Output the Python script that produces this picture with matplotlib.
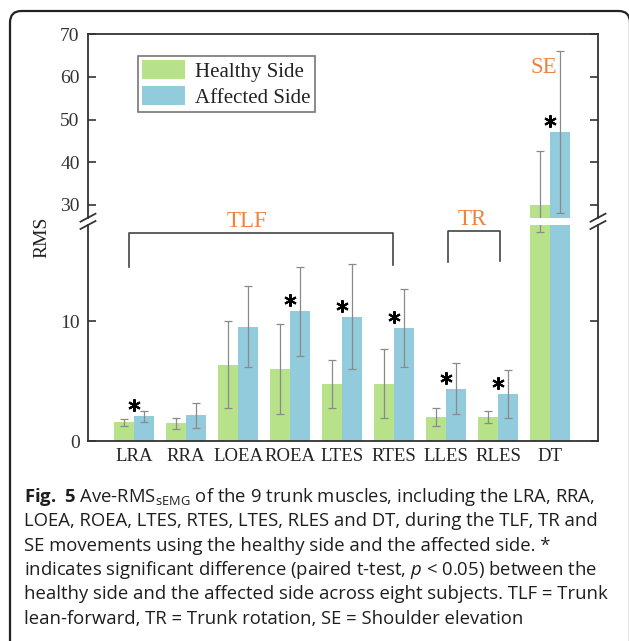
import matplotlib
matplotlib.use("Agg")
import matplotlib.pyplot as plt
import matplotlib.transforms as mtransforms
from matplotlib.lines import Line2D
from matplotlib.patches import FancyBboxPatch, Patch
import numpy as np

# data
muscles = ["LRA", "RRA", "LOEA", "ROEA", "LTES", "RTES", "LLES", "RLES", "DT"]
healthy = [1.55, 1.47, 6.36, 6.00, 4.75, 4.78, 2.00, 2.00, 30.0]
healthy_err = [0.30, 0.46, 3.64, 3.75, 1.96, 2.86, 0.79, 0.50, 12.6]
affected = [2.05, 2.14, 9.53, 10.80, 10.36, 9.39, 4.36, 3.92, 47.1]
affected_err = [0.43, 1.05, 3.40, 3.70, 4.36, 3.24, 2.10, 2.00, 18.9]
significant = [True, False, False, True, True, True, True, True, True]

# bracket ends (in muscle index units)
tlf_span = (-0.1, 4.98)
tr_span = (6.03, 7.04)

caption = [
    r"$\mathbf{Fig.\ 5}$ Ave-RMS$_{\mathrm{sEMG}}$ of the 9 trunk muscles, including the LRA, RRA,",
    "LOEA, ROEA, LTES, RTES, LTES, RLES and DT, during the TLF, TR and",
    "SE movements using the healthy side and the affected side. *",
    r"indicates significant difference (paired t-test, $p$ < 0.05) between the",
    "healthy side and the affected side across eight subjects. TLF = Trunk",
    "lean-forward, TR = Trunk rotation, SE = Shoulder elevation",
]

GREEN = "#B7E289"
BLUE = "#92CCDC"
ORANGE = "#F0823C"
SERIF = "Liberation Serif"

plt.rcParams["mathtext.fontset"] = "custom"
plt.rcParams["mathtext.rm"] = "Open Sans"
plt.rcParams["mathtext.it"] = "Open Sans:italic"
plt.rcParams["mathtext.bf"] = "Open Sans:bold"

W, H = 629, 641
fig = plt.figure(figsize=(W / 100, H / 100), dpi=100)

def fx(px):
    return px / W

def fy(py):
    return 1 - py / H

left, right = 88, 598
ax_top = fig.add_axes([fx(left), fy(217.7), fx(right - left), (217.7 - 34.3) / H])
ax_bot = fig.add_axes([fx(left), fy(441), fx(right - left), (441 - 225) / H])

x = np.arange(len(muscles))
w = 0.385

for ax in (ax_top, ax_bot):
    ax.set_facecolor("none")
    ax.bar(x - w / 2, healthy, w, color=GREEN, zorder=2)
    ax.bar(x + w / 2, affected, w, color=BLUE, zorder=2)
    ax.errorbar(x - w / 2, healthy, yerr=healthy_err, fmt="none", ecolor="#8a8a8a",
                elinewidth=0.9, capsize=3, capthick=0.9, zorder=3)
    ax.errorbar(x + w / 2, affected, yerr=affected_err, fmt="none", ecolor="#8a8a8a",
                elinewidth=0.9, capsize=3, capthick=0.9, zorder=3)
    ax.set_xlim(-0.885, 8.92)
    for s in ax.spines.values():
        s.set_linewidth(1.3)
        s.set_color("#333333")
    ax.tick_params(axis="y", direction="in", length=6, width=1.2, left=True, right=True,
                   labelright=False, pad=6, labelsize=14, colors="#333333")

ax_top.set_ylim(27, 70)
ax_top.set_yticks([30, 40, 50, 60, 70])
ax_top.spines["bottom"].set_visible(False)
ax_top.tick_params(axis="x", bottom=False, labelbottom=False)

ax_bot.set_ylim(0, 18)
ax_bot.set_yticks([0, 10])
ax_bot.spines["top"].set_visible(False)
ax_bot.set_xticks(x)
ax_bot.set_xticklabels(muscles, fontfamily=SERIF, fontsize=13.5, color="#222222")
ax_bot.tick_params(axis="x", length=0, pad=5)
for ax in (ax_top, ax_bot):
    for lab in ax.get_yticklabels():
        lab.set_fontfamily(SERIF)

# significance stars above the affected bars
for i, sig in enumerate(significant):
    if not sig:
        continue
    ax = ax_top if affected[i] > 18 else ax_bot
    tr = mtransforms.offset_copy(ax.transData, fig=fig, y=11, units="dots")
    ax.plot(i, affected[i], marker=(6, 2, 0), ms=9, mew=1.5, color="black",
            transform=tr, clip_on=False, zorder=5)

# group brackets
bk = "#444444"
ax_bot.plot([tlf_span[0], tlf_span[0], tlf_span[1], tlf_span[1]], [14.5, 17.35, 17.35, 14.7],
            color=bk, lw=1.2, clip_on=False)
ax_bot.plot([tr_span[0], tr_span[0], tr_span[1], tr_span[1]], [14.9, 17.5, 17.5, 15.0],
            color=bk, lw=1.2, clip_on=False)
ax_bot.text(2.17, 18.3, "TLF", color=ORANGE, fontsize=16.5, fontfamily=SERIF,
            ha="center", va="center", clip_on=False)
ax_bot.text(6.5, 18.45, "TR", color=ORANGE, fontsize=16.5, fontfamily=SERIF,
            ha="center", va="center", clip_on=False)
ax_top.text(7.88, 62.1, "SE", color=ORANGE, fontsize=16.5, fontfamily=SERIF,
            ha="center", va="center")

# legend
handles = [Patch(facecolor=GREEN, edgecolor="none", label="Healthy Side"),
           Patch(facecolor=BLUE, edgecolor="none", label="Affected Side")]
leg = ax_top.legend(handles=handles, loc="upper left", bbox_to_anchor=(0.0975, 0.882),
                    borderaxespad=0, fancybox=False, framealpha=1, edgecolor="#777777",
                    prop={"family": SERIF, "size": 15}, handlelength=2.07, handleheight=1.0,
                    handletextpad=0.5, labelspacing=0.22, borderpad=0.2)
leg.get_frame().set_linewidth(1.2)
for t in leg.get_texts():
    t.set_color("#222222")

# axis break marks
for py in (217.7, 225):
    for px in (left, right):
        fig.add_artist(Line2D([fx(px - 7.5), fx(px + 7.5)], [fy(py + 4), fy(py - 4)],
                              transform=fig.transFigure, color="#333333", lw=1.3))

fig.text(fx(42), fy(237), "RMS", rotation=90, ha="center", va="center",
         fontfamily=SERIF, fontsize=14, color="#222222")

# outer rounded frame
frame = FancyBboxPatch((fx(10), -0.05), fx(620), fy(11) + 0.05,
                       boxstyle="round,pad=0,rounding_size=0.018",
                       transform=fig.transFigure, fill=False, ec="#222222", lw=1.6)
fig.add_artist(frame)

# caption
for k, line in enumerate(caption):
    fig.text(fx(24), fy(497 + k * 24.3), line, ha="left", va="center",
             fontfamily="Open Sans", fontsize=13.3, color="#1e1e1e")

fig.savefig("out.png", dpi=100)
